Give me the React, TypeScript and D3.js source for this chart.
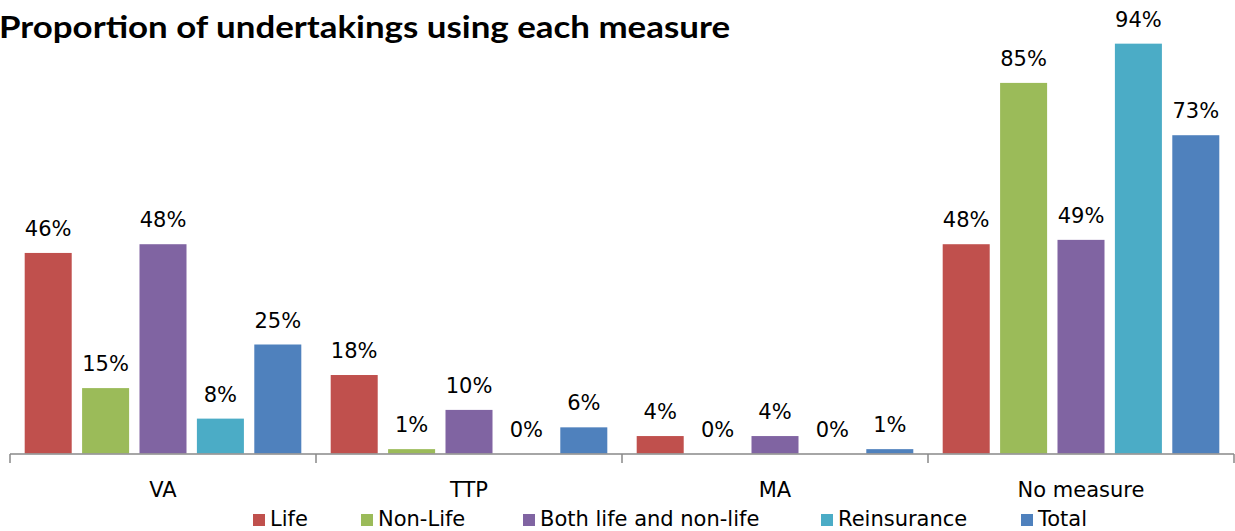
import React, { useEffect, useRef } from "react";
import * as d3 from "d3";

const categories = ["VA", "TTP", "MA", "No measure"];
const seriesNames = ["Life", "Non-Life", "Both life and non-life", "Reinsurance", "Total"];
const seriesColors = ["#C0504D", "#9BBB59", "#8064A2", "#4BACC6", "#4F81BD"];
const lifeValues = [46, 18, 4, 48];
const nonLifeValues = [15, 1, 0, 85];
const bothValues = [48, 10, 4, 49];
const reinsuranceValues = [8, 0, 0, 94];
const totalValues = [25, 6, 1, 73];
const seriesValues = [lifeValues, nonLifeValues, bothValues, reinsuranceValues, totalValues];
const title = "Proportion of undertakings using each measure";

const W = 1235;
const H = 531;
const FONT = "'DejaVu Sans', Verdana, sans-serif";
const LEGEND_X = [253, 361, 523, 821, 1021];

export default function App() {
  const ref = useRef<SVGSVGElement | null>(null);

  useEffect(() => {
    const svg = d3.select(ref.current);
    svg.selectAll("*").remove();

    const x0 = d3.scaleBand<string>().domain(categories).range([10, 1234]).paddingInner(0).paddingOuter(0);
    const x1 = d3.scaleBand<string>().domain(seriesNames).range([0, x0.bandwidth()]).paddingInner(0.181).paddingOuter(0.256);
    const y = d3.scaleLinear().domain([0, 100]).range([453.5, 17.5]);

    // title
    svg.append("text")
      .attr("x", -1).attr("y", 38)
      .attr("font-family", "Lato, 'Open Sans', sans-serif")
      .attr("font-weight", "bold")
      .attr("font-size", 30)
      .attr("textLength", 731)
      .attr("lengthAdjust", "spacingAndGlyphs")
      .attr("fill", "#000")
      .text(title);

    // bars
    categories.forEach((cat, ci) => {
      const g = svg.append("g").attr("transform", `translate(${x0(cat)},0)`);
      seriesNames.forEach((s, si) => {
        const v = seriesValues[si][ci];
        const bx = x1(s)!;
        g.append("rect")
          .attr("x", bx).attr("y", y(v))
          .attr("width", x1.bandwidth())
          .attr("height", y(0) - y(v))
          .attr("fill", seriesColors[si]);
        g.append("text")
          .attr("x", bx + x1.bandwidth() / 2)
          .attr("y", y(v) - 17)
          .attr("text-anchor", "middle")
          .attr("font-family", FONT)
          .attr("font-size", 21)
          .attr("fill", "#000")
          .text(`${v}%`);
      });
    });

    // axis
    const axisY = 454;
    svg.append("line")
      .attr("x1", 10).attr("x2", 1234)
      .attr("y1", axisY).attr("y2", axisY)
      .attr("stroke", "#888").attr("stroke-width", 1.5);
    const edges = categories.map((c) => x0(c)!).concat([1234]);
    edges.forEach((ex) => {
      svg.append("line")
        .attr("x1", ex).attr("x2", ex)
        .attr("y1", axisY).attr("y2", axisY + 9)
        .attr("stroke", "#888").attr("stroke-width", 1.5);
    });
    categories.forEach((c) => {
      svg.append("text")
        .attr("x", x0(c)! + x0.bandwidth() / 2)
        .attr("y", 497)
        .attr("text-anchor", "middle")
        .attr("font-family", FONT)
        .attr("font-size", 21)
        .attr("fill", "#000")
        .text(c);
    });

    // legend
    seriesNames.forEach((s, si) => {
      const lx = LEGEND_X[si];
      svg.append("rect")
        .attr("x", lx).attr("y", 514)
        .attr("width", 12).attr("height", 12)
        .attr("fill", seriesColors[si]);
      svg.append("text")
        .attr("x", lx + 17).attr("y", 526)
        .attr("font-family", FONT)
        .attr("font-size", 21)
        .attr("fill", "#000")
        .text(s);
    });
  }, []);

  return (
    <svg
      ref={ref}
      width={W}
      height={H}
      style={{ position: "absolute", left: 0, top: 0, background: "#fff" }}
    />
  );
}
